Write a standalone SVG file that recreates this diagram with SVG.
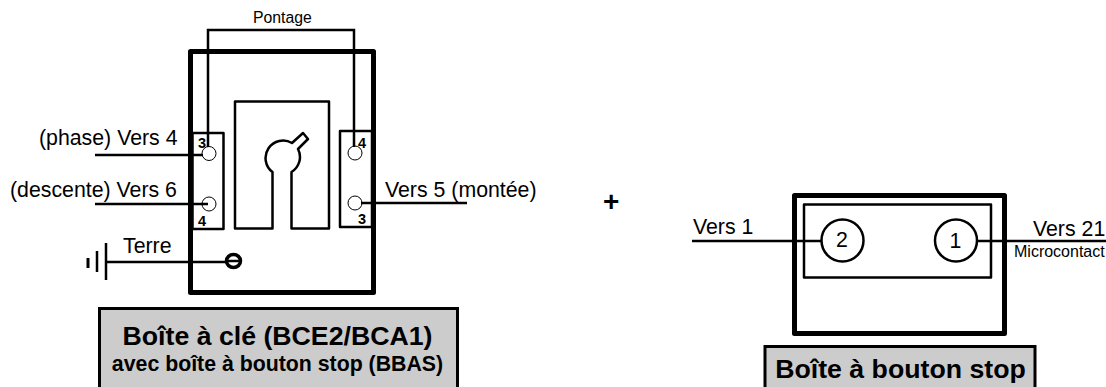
<svg xmlns="http://www.w3.org/2000/svg" width="1106" height="387" viewBox="0 0 1106 387">
<style>
text{font-family:"Liberation Sans",Arial,sans-serif;fill:#000}
.o{fill:none;stroke:#000;stroke-linejoin:round}
.w{fill:none;stroke:#000;stroke-width:2.5}
.t{fill:#fff;stroke:#000;stroke-width:1}
.l{font-size:21.300px}
.n{font-size:14.500px;font-weight:bold}
.g{fill:#ccc;stroke:#000;stroke-width:3}
.h{font-size:26.700px;font-weight:bold;text-anchor:middle}
.c{fill:#fff;stroke:#000;stroke-width:2.500}
</style>
<g id="boite-cle">
<rect class="o" x="190.500" y="51.500" width="183" height="241" stroke-width="5"/>
<path class="o" stroke-width="2.500" d="M235 228.500V101.500H329V228.500H291.500V172A17.500 17.500 0 0 0 298 149L308 139L303 133L292 143A17.500 17.500 0 0 0 272.500 172V228.500Z"/>
<rect class="o" x="192.500" y="133" width="31" height="96" stroke-width="2.500"/>
<rect class="o" x="340" y="131" width="32" height="96" stroke-width="2.500"/>
</g>
<g id="bornes">
<circle class="t" cx="209" cy="153.500" r="7"/>
<circle class="t" cx="209" cy="204" r="7"/>
<circle class="t" cx="355" cy="153" r="7"/>
<circle class="t" cx="355" cy="203" r="7"/>
<text class="n" x="198" y="147.500">3</text>
<text class="n" x="358" y="147.500">4</text>
<text class="n" x="198" y="225.500">4</text>
<text class="n" x="358" y="223.500">3</text>
</g>
<g id="connecteurs">
<path class="w" d="M208 147V30H354V147"/>
<path class="w" d="M95 155H203M95 204H208M361 203H467M106 262H226"/>
<path class="w" d="M106 243V280M97 251V272"/>
<path class="o" stroke-width="3" d="M88 258V268"/>
<path class="w" d="M692 241H821M978 241H1106"/>
</g>
<g id="vis">
<ellipse class="o" cx="233.500" cy="261" rx="7" ry="6.500" stroke-width="3.500"/>
<path class="o" stroke-width="2.500" d="M227 261H240"/>
</g>
<g id="libelles">
<text x="39" y="145" class="l">(phase) Vers 4</text>
<text x="10" y="197" class="l">(descente) Vers 6</text>
<text x="385" y="197" class="l">Vers 5 (montée)</text>
<text x="123" y="253" class="l">Terre</text>
<text x="253" y="23" font-size="15.800">Pontage</text>
<text x="603" y="210.500" font-size="28" font-weight="bold">+</text>
</g>
<g id="titre-cle">
<rect class="g" x="99.500" y="308.500" width="358" height="90"/>
<text class="h" x="277.500" y="345">Boîte à clé (BCE2/BCA1)</text>
<text class="h" x="277.500" y="371" style="font-size:21.300px">avec boîte à bouton stop (BBAS)</text>
</g>
<g id="boite-stop">
<rect class="o" x="794.500" y="195.500" width="210" height="138" stroke-width="5"/>
<rect class="o" x="804" y="204.500" width="187" height="73" stroke-width="2.500"/>
<circle class="c" cx="842.500" cy="240.500" r="21"/>
<circle class="c" cx="956" cy="240.500" r="21"/>
<text x="842" y="246.500" font-size="21.300" text-anchor="middle">2</text>
<text x="955.500" y="247.500" font-size="21.300" text-anchor="middle">1</text>
<text x="693" y="234" class="l">Vers 1</text>
<text x="1033" y="236" class="l">Vers 21</text>
<text x="1014" y="257" font-size="16">Microcontact</text>
</g>
<g id="titre-stop">
<rect class="g" x="765" y="346.500" width="270" height="50"/>
<text class="h" x="900.500" y="378">Boîte à bouton stop</text>
</g>
</svg>
